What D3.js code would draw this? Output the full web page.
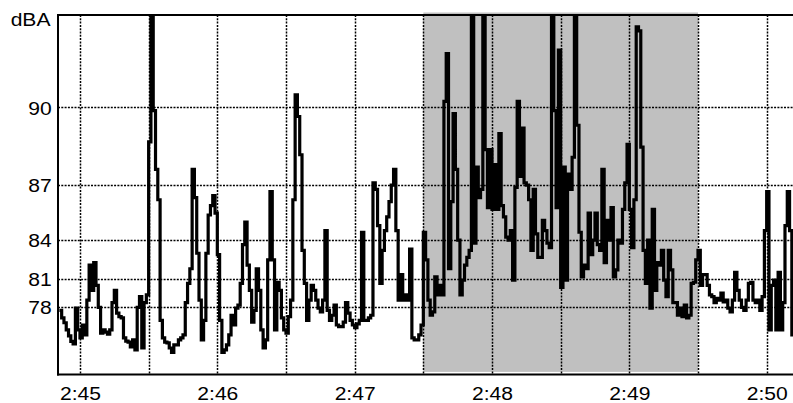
<!DOCTYPE html>
<html><head><meta charset="utf-8">
<script src="https://cdn.jsdelivr.net/npm/d3@7"></script>
<style>html,body{margin:0;padding:0;background:#fff;} svg{display:block;}</style>
</head><body><svg id="c" width="793" height="403"></svg>
<script>
// ---------------- data ----------------
const yUnit = "dBA";
const yTickValues = [78, 81, 84, 87, 90];
const xTickLabels = ["2:45", "2:46", "2:47", "2:48", "2:49", "2:50"];
const xDomain = ["2:44:50.4", "2:50:11.5"];
const highlightRange = ["2:47:30", "2:49:30"];
const yTopDb = 92.6;
const firstSample = "2:44:51";
const sampleStepSeconds = 1;
const levels = [
 77.5,76.4,75.6,74.3,73.0,71.6,70.9,77.8,74.3,72.5,
 75.2,73.2,78.8,82.2,79.9,82.4,80.4,77.9,73.6,74.3,
 73.8,73.4,74.3,78.5,79.9,77.1,76.6,76.4,72.5,71.7,
 71.4,70.0,72.0,68.9,77.9,79.2,69.6,78.5,79.4,88.8,
 95.0,89.9,87.7,86.3,76.0,72.5,71.4,71.2,69.6,68.0,
 70.6,
 70.6,72.0,72.5,73.2,78.5,80.6,81.9,87.7,86.4,83.1,
 78.8,72.0,76.0,83.1,85.5,86.0,86.5,85.6,83.0,76.0,
 68.0,68.9,70.6,73.2,76.8,75.2,77.8,78.2,80.6,83.7,
 85.1,82.2,79.9,75.7,77.5,81.9,79.9,74.3,69.6,72.0,
 82.6,86.7,82.6,74.3,80.7,79.9,76.4,74.3,73.6,76.6,
 78.8,86.3,90.4,89.7,88.3,
 83.3,80.6,76.0,78.8,80.4,79.9,78.8,77.8,77.3,78.8,
 84.6,77.5,76.0,76.8,78.2,75.2,74.9,74.9,75.7,78.5,
 77.1,76.0,75.2,74.7,75.4,76.0,84.5,76.0,76.0,76.4,
 76.8,87.1,86.8,84.9,80.6,83.3,84.6,85.4,86.2,87.0,
 87.7,84.6,78.8,81.4,78.8,79.4,78.8,83.4,72.5,72.0,
 72.0,73.2,
 75.2,84.5,82.6,78.8,76.8,77.3,81.2,79.4,80.4,79.4,
 90.2,91.6,81.9,86.2,89.8,87.7,84.0,79.4,80.9,82.2,
 82.8,83.3,94.0,83.8,87.8,86.4,86.8,94.0,88.5,85.9,
 88.5,85.8,87.9,85.8,89.1,86.0,85.4,84.2,84.0,84.6,
 80.9,86.9,90.2,87.4,89.3,87.1,87.0,86.3,83.3,86.8,
 84.4,82.8,
 82.8,85.2,84.6,83.8,83.5,94.0,89.9,85.9,91.7,80.2,
 87.8,80.9,87.5,86.8,88.2,94.0,89.4,84.5,81.2,82.2,
 81.9,85.6,83.0,84.0,85.6,83.7,83.3,87.7,82.4,85.2,
 84.0,85.9,81.2,81.8,84.0,83.8,85.8,87.1,88.7,85.8,
 83.5,86.3,92.3,92.2,88.6,83.3,80.6,84.0,77.8,85.8,
 79.9,82.4,
 82.2,83.3,80.9,79.2,83.3,81.8,78.5,78.5,76.8,77.8,
 76.6,78.2,76.4,76.8,80.6,80.7,82.6,83.3,80.4,81.4,
 81.4,80.4,79.4,79.2,78.5,79.0,78.8,79.6,78.6,78.8,
 77.8,77.3,78.8,81.6,79.9,78.8,77.9,77.5,78.8,80.6,
 80.7,78.8,78.5,78.8,77.5,79.2,84.6,86.7,74.3,80.4,
 80.9,74.3,81.6,74.3,78.5,84.9,86.7,84.6,73.2
];

// ---------------- helpers ----------------
function parseT(s) {
  const [h, m, sec] = s.split(":").map(Number);
  const whole = Math.floor(sec || 0);
  return new Date(2000, 0, 1, h, m, whole, Math.round(((sec || 0) - whole) * 1000));
}
const dbToP = db => Math.pow(10, db / 20);   // sound pressure (linear) scale
const pToDb = p => 20 * Math.log10(p);

const plot = { left: 58, right: 793, top: 15, bottom: 374.5 };

const x = d3.scaleTime().domain(xDomain.map(parseT)).range([plot.left, plot.right]);
const yP = d3.scaleLinear().domain([0, dbToP(yTopDb)]).range([373.4, 14.7]);

const t0 = parseT(firstSample);
const points = levels.map((v, i) => ({ t: new Date(+t0 + i * sampleStepSeconds * 1000), v }));
points.push({ t: new Date(+t0 + levels.length * sampleStepSeconds * 1000), v: levels[levels.length - 1] });

const svg = d3.select("#c");
const FONT = '"Liberation Sans", Arial, Helvetica, sans-serif';
const FS = 18.5, SX = 1.14;

svg.append("defs").append("clipPath").attr("id", "clip")
  .append("rect").attr("x", plot.left).attr("y", plot.top)
  .attr("width", plot.right - plot.left).attr("height", plot.bottom - plot.top);

// highlighted period
const hx0 = x(parseT(highlightRange[0])), hx1 = x(parseT(highlightRange[1]));
svg.append("rect").attr("x", hx0).attr("y", 12.5)
  .attr("width", hx1 - hx0).attr("height", yP(0) - 1.5 - 12.5)
  .attr("fill", "#c0c0c0");

// grid
const grid = svg.append("g").attr("stroke", "#000").attr("stroke-width", 1.5)
  .attr("stroke-dasharray", "2,1.3").attr("fill", "none");
const vTicks = d3.timeSecond.every(30).range(parseT(xTickLabels[0]), new Date(+parseT(xTickLabels[xTickLabels.length - 1]) + 1));
grid.selectAll("line.v").data(vTicks).join("line").attr("class", "v")
  .attr("x1", d => Math.round(x(d)) + 0.5).attr("x2", d => Math.round(x(d)) + 0.5)
  .attr("y1", plot.top).attr("y2", plot.bottom);
grid.selectAll("line.h").data(yTickValues).join("line").attr("class", "h")
  .attr("x1", plot.left).attr("x2", plot.right)
  .attr("y1", d => Math.round(yP(dbToP(d))) + 0.5).attr("y2", d => Math.round(yP(dbToP(d))) + 0.5);

// series line
const line = d3.line().x(d => x(d.t)).y(d => yP(dbToP(d.v))).curve(d3.curveStepAfter);
svg.append("path").datum(points).attr("clip-path", "url(#clip)")
  .attr("d", line).attr("fill", "none").attr("stroke", "#000")
  .attr("stroke-width", 3.2).attr("stroke-linejoin", "miter");

// frame
const frame = svg.append("g").attr("stroke", "#000").attr("stroke-width", 2);
frame.append("line").attr("x1", plot.left).attr("x2", plot.left).attr("y1", plot.top - 1).attr("y2", plot.bottom + 1);
frame.append("line").attr("x1", plot.left - 1).attr("x2", plot.right).attr("y1", plot.top).attr("y2", plot.top);
frame.append("line").attr("x1", plot.left - 1).attr("x2", plot.right).attr("y1", plot.bottom).attr("y2", plot.bottom);

// axes (labels only)
const xAxis = d3.axisBottom(x).tickValues(xTickLabels.map(parseT))
  .tickFormat(d3.timeFormat("%-I:%M")).tickSize(0).tickPadding(12.4);
const gx = svg.append("g").attr("transform", `translate(0,${plot.bottom})`).call(xAxis);
gx.select(".domain").remove();
gx.selectAll("text").attr("font-family", FONT).attr("font-size", FS).attr("fill", "#000")
  .attr("transform", `scale(${SX},1)`);

const yAxis = d3.axisLeft(yP).tickValues(yTickValues.map(dbToP))
  .tickFormat(p => String(Math.round(pToDb(p)))).tickSize(0).tickPadding(5.6);
const gy = svg.append("g").attr("transform", `translate(${plot.left},0)`).call(yAxis);
gy.select(".domain").remove();
gy.selectAll("text").attr("font-family", FONT).attr("font-size", FS).attr("fill", "#000")
  .attr("dy", "0.36em").attr("transform", `scale(${SX},1)`);

svg.append("text").attr("transform", `translate(50.5,26) scale(${SX},1)`)
  .attr("text-anchor", "end").attr("font-family", FONT).attr("font-size", FS)
  .attr("fill", "#000").text(yUnit);
</script>
</body></html>
